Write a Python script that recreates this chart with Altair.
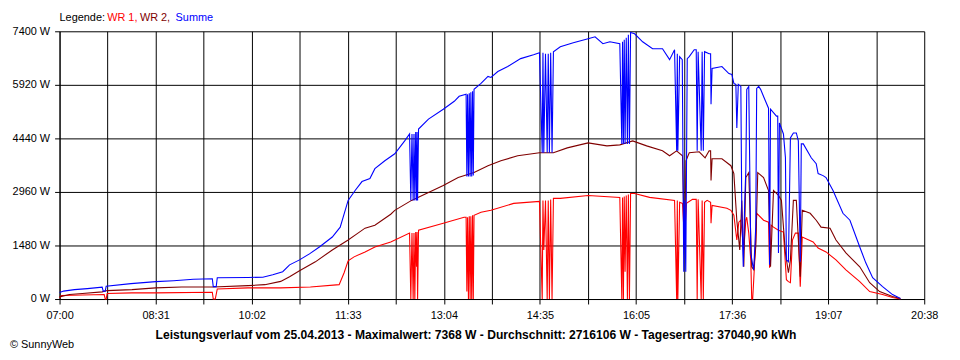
import json
import pandas as pd
import altair as alt

# time in minutes after 07:00, power in W
summe = [(0,178),(3.8,219),(14.1,260),(26.3,288),(40.3,329),(41.3,219),(43.2,219),(44.1,356),(67.5,425),(91,480),(107.9,507),(126.6,548),(144.5,562),(145.4,343),(148.2,343),(149.2,589),(178.2,597),(192.3,603),(201.7,671),(211.1,754),(217.6,945),(227,1082),(236.4,1247),(245.8,1439),(258,1713),(265.5,1987),(270.2,2452),(273,2726),(279.6,3000),(286.1,3247),(293.6,3329),(298.3,3603),(307.7,3822),(317.1,4014),(326.5,4370),(331.1,4562),
 (332.3,2726),(333.4,4562),(334.5,2726),(335.3,4562),(336.1,2726),(336.9,4617),(337.7,2726),(338.2,4617),(338.7,2726),(339.6,4699),
 (349,4973),(363,5247),(373.4,5466),(378,5603),(384.6,5658),
 (385.3,3384),(386,5658),(386.8,3384),(387.6,5685),(388.4,3384),(389.1,5713),(389.9,3384),(390.7,5740),(391.4,3411),(392.1,5795),
 (398.7,5959),(405.3,6151),(408.1,6124),(414.6,6288),(424,6425),(436.2,6645),(448.4,6754),(454,6809),
 (456.6,4042),(457.3,6809),(458.1,4042),(459.7,6781),(461.3,4042),(462.3,6781),(463.4,4042),(464.6,6809),(465.9,4042),(467.2,6836),
 (473.7,6973),(486,7083),(500,7193),(506.6,7247),(514,7056),(520.6,7110),(530,7056),
 (531.9,4288),(532.6,7110),(533.4,4288),(534.2,7165),(535,4288),(536.1,7220),(537.2,4288),(538.1,7302),(539.1,4288),(540.2,7368),
 (544,7330),(551.6,7110),(561,6918),(570.4,6918),(577.1,6617),(581.8,6891),
 (583.8,4096),(584.4,6781),(584.9,4096),(586.6,6699),(589.1,6617),
 (590.5,754),(591.4,2726),(592.4,754),(593.8,6645),(595.7,6699),(600.4,6891),(602.3,6891),
 (603.2,4096),(604.1,6836),(607,4096),(607.9,6836),(609,4096),(610.2,6836),(614.5,6781),(615.9,6781),(616.3,5384),(617.3,6370),
 (626.6,6425),(633.2,6233),(636,6206),(637.9,5959),(639.8,5932),(640.7,4727),(642.1,5932),(644.5,5877),(645.4,2452),(646.8,890),(648.2,2726),(649.2,3548),(650.1,5795),(652,5877),(653.9,1274),(655.7,945),(656.7,808),(658.6,1987),(659.5,5822),(661.4,5877),(663.2,5795),(667.9,5466),(670.7,5275),(671.7,945),(672.6,5247),(678.2,5055),(679.4,5055),(680.1,1274),(681,4864),(684.8,4562),(686.7,3904),(687.6,1082),(689.5,1028),(691.4,4452),(694.2,4590),(697,4590),(698.9,4370),(700.7,1028),(701.7,4288),(703.6,4288),(711.1,3904),(715.8,3740),(717.6,3466),(722.3,3411),(725.1,3357),(731.7,3000),(741.1,2370),(747.7,2178),(757,1439),(762.7,1000),(769.2,589),(778.6,343),(788,123),(795.5,14)]

wr2 = [(0,60),(9.4,123),(21.6,151),(40.3,197),(45,233),(68.5,260),(91,307),(115.4,334),(145.4,334),(178.2,370),(194.2,397),(209.2,488),(217.6,617),(227,781),(242,1028),(258,1356),(273,1630),(279.6,1767),(289,1959),(298.3,2041),(313.3,2343),(317.1,2452),(333,2726),(349,2946),(363,3137),(377.1,3357),(392.1,3494),(405.3,3685),(417.5,3822),(433.4,3959),(454,4042),(467.2,4042),(480.3,4178),(500,4316),(517.8,4233),(530,4261),(542.2,4370),(555.4,4233),(570.4,4096),(577.1,3959),(583.7,4096),(589.3,3959),(591.2,1356),(592.6,3822),(595.7,4042),(605.1,4069),(610.7,3904),(614.5,4096),(615.9,4096),(616.3,3274),(617.3,3877),(626.6,3877),(635.1,3685),(637.9,3466),(640.7,2178),(643.5,1356),(645.4,2726),(647.3,890),(649.2,3357),(652,3494),(654.8,890),(656.7,808),(658.6,1439),(660.5,3494),(666,3357),(670.7,3000),(672.6,890),(675.4,3000),(680.1,2863),(682.9,2726),(686.7,1274),(689.5,726),(691.4,1082),(694.2,2726),(697,2726),(700.7,617),(702.6,2452),(710.1,2370),(715.8,2178),(720.4,1987),(728.9,1959),(734.5,1630),(743.9,1274),(757,890),(766.4,452),(775.8,206),(788,68),(795.5,14)]

wr1 = [(0,33),(1.9,96),(42.2,123),(43.2,0),(44.1,0),(45,151),(68.5,170),(91,170),(144.5,186),(145.4,0),(147.3,0),(149.2,279),(178.2,307),(209.2,307),(237.3,334),(264.5,397),(269.2,726),(273,1055),(278.6,1165),(289,1302),(298.3,1439),(313.3,1576),(331.1,1822),
 (332.3,0),(333.4,1822),(334.5,0),(335.3,1822),(336.1,0),(336.9,1850),(337.7,890),(338.2,1850),(338.7,0),(339.6,1904),
 (363,2096),(382.7,2261),(384.6,2261),
 (385.3,206),(386,2261),(386.8,0),(387.6,2288),(388.4,0),(389.1,2288),(389.9,0),(390.7,2315),(391.4,0),(392.1,2315),
 (398.7,2398),(408.1,2452),(429.6,2644),(454,2699),
 (456.6,0),(457.3,2726),(458.1,1356),(459.7,2726),(461.3,0),(462.3,2726),(463.4,0),(464.6,2754),(465.9,0),(467.2,2781),
 (473.7,2781),(500,2863),(530,2809),
 (531.9,0),(532.6,2809),(533.4,0),(534.2,2836),(535,754),(536.1,2863),(537.2,0),(538.1,2891),(539.1,0),(540.2,2918),
 (544,2918),(558.2,2809),(581.8,2726),(583.8,0),(584.4,2726),(584.9,0),(586.6,2672),(589.3,2644),(591.2,1630),(593,2644),(598.8,2754),(602.3,2754),(603.2,0),(604.1,2754),(607,0),(607.9,2726),(609,0),(610.2,2672),(612.6,2726),(615.9,2672),(616.3,2096),(617.3,2589),(631.3,2507),(635.1,2452),(637.9,2315),(640.7,1630),(642.6,2124),(644.5,2178),(647.3,1356),(649.2,2178),(650.1,2261),(652,1822),(653.9,1082),(654.8,0),(655.7,0),(656.7,534),(658.6,1630),(659.5,2370),(666,2178),(670.7,2124),(671.7,863),(673.1,2041),(675.4,1987),(680.1,1904),(684.8,1850),(687.6,534),(689.5,480),(691.4,452),(693.3,1630),(696.1,1822),(698.9,1822),(700.7,343),(702.6,1713),(712.9,1576),(717.6,1411),(725.1,1302),(734.5,1082),(743.9,808),(757,480),(766.4,206),(778.6,123),(788,41),(795.5,0)]

x_labels = ["07:00", "08:31", "10:02", "11:33", "13:04", "14:35", "16:05", "17:36", "19:07", "20:38"]
y_ticks = [0, 1480, 2960, 4440, 5920, 7400]
span_minutes = 818
series_names = ["WR 1", "WR 2", "Summe"]
series_colors = ["#ff0000", "#800000", "#0000ff"]
title_text = "Leistungsverlauf vom 25.04.2013 - Maximalwert: 7368 W - Durchschnitt: 2716106 W - Tagesertrag: 37040,90 kWh"

FONT = "Liberation Sans"
step = span_minutes / 18
x_vals = [i * step for i in range(19)]
labels_full = [x_labels[i // 2] if i % 2 == 0 else "" for i in range(19)]

def frame(points, name):
    return pd.DataFrame({"t": [p[0] for p in points], "w": [p[1] for p in points], "s": name})

x_enc = alt.X("t:Q", scale=alt.Scale(domain=[0, span_minutes], nice=False, zero=False),
              axis=alt.Axis(values=x_vals, labelExpr=f"{json.dumps(labels_full)}[round(datum.value / {step})]",
                            title=None, tickSize=5, labelPadding=6, grid=True, labelFlush=False,
                            labelOverlap=False))
y_enc = alt.Y("w:Q", scale=alt.Scale(domain=[0, 7400], nice=False),
              axis=alt.Axis(values=y_ticks, labelExpr="datum.value + ' W'", title=None,
                            tickSize=5, labelPadding=5, grid=True))
color_scale = alt.Scale(domain=series_names, range=series_colors)

layers = []
for pts, name in [(wr1, "WR 1"), (wr2, "WR 2"), (summe, "Summe")]:
    layers.append(
        alt.Chart(frame(pts, name)).mark_line(strokeWidth=1.1).encode(
            x=x_enc, y=y_enc, color=alt.Color("s:N", scale=color_scale, legend=None)
        )
    )

one = pd.DataFrame({"a": [0]})
def label(text, x, y, color="black", bold=False, align="left", size=11):
    return alt.Chart(one).mark_text(text=text, align=align, baseline="alphabetic", font=FONT,
                                    fontSize=size, color=color,
                                    fontWeight="bold" if bold else "normal").encode(
        x=alt.value(x), y=alt.value(y))

layers += [
    label("Legende:", 0, -10),
    label("WR 1,", 48, -10, series_colors[0]),
    label("WR 2,", 81, -10, series_colors[1]),
    label("Summe", 117, -10, series_colors[2]),
    label(title_text, 420, 310, bold=True, align="center", size=12.2),
    label("© SunnyWeb", -50, 319),
]

chart = alt.layer(*layers).properties(
    width=872, height=270,
    autosize=alt.AutoSizeParams(type="none"),
    padding={"left": 52, "top": 22, "right": 28, "bottom": 60},
    background="white",
).configure_view(strokeWidth=0).configure_axis(
    domainColor="black", tickColor="black", gridColor="black", gridOpacity=1,
    labelColor="black", labelFont=FONT, labelFontSize=11,
    domainWidth=1, tickWidth=1, gridWidth=1,
)

chart.save("out.html", embed_options={"renderer": "svg", "actions": False})
